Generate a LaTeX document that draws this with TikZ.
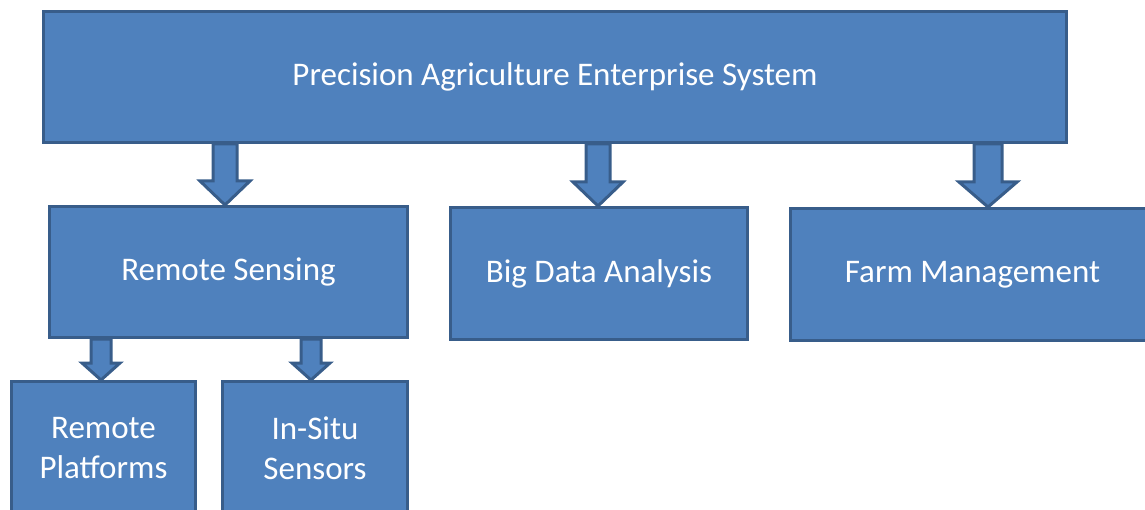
\documentclass[tikz,border=0pt]{standalone}
\usepackage{fontspec}
\setmainfont{Carlito}
\usetikzlibrary{calc}
\definecolor{boxfill}{HTML}{4F81BD}
\definecolor{boxline}{HTML}{385D8A}
\tikzset{
  blk/.style={draw=boxline, fill=boxfill, line width=3pt, text=white,
    font=\fontsize{33}{40}\selectfont, align=center, inner sep=0pt, anchor=north west},
  arr/.style={draw=boxline, fill=boxfill, line width=3pt, line join=miter},
}
% x-centre, from node, to node, shaft half width, head half width, head length
\newcommand\blockarrow[6]{%
  \draw[arr] let \p1=(#2.south), \p2=(#3.north) in
    (#1pt-#4pt,\y1) -- (#1pt+#4pt,\y1) -- (#1pt+#4pt,\y2+#6pt) -- (#1pt+#5pt,\y2+#6pt)
    -- (#1pt,\y2) -- (#1pt-#5pt,\y2+#6pt) -- (#1pt-#4pt,\y2+#6pt) -- cycle;}
\begin{document}
\begin{tikzpicture}[x=1pt,y=-1pt]
\useasboundingbox (0,0) rectangle (1145,510);
\clip (0,0) rectangle (1145,510);
\node[blk, minimum width=1023pt, minimum height=131pt] (top) at (42,10) {Precision Agriculture Enterprise System};
\node[blk, minimum width=358pt, minimum height=131pt] (rs) at (48,205) {Remote Sensing};
\node[blk, minimum width=297pt, minimum height=132pt] (bd) at (449,206) {Big Data Analysis};
\node[blk, minimum width=364pt, minimum height=132pt] (fm) at (789,207) {Farm Management};
\node[blk, minimum width=184pt, minimum height=134pt] (rp) at (10,380) {Remote\\Platforms};
\node[blk, minimum width=185pt, minimum height=134pt] (is) at (221,380) {In-Situ\\Sensors};
\blockarrow{225}{top}{rs}{12}{25}{24}
\blockarrow{598}{top}{bd}{12}{25}{24}
\blockarrow{988}{top}{fm}{14}{29}{25}
\blockarrow{101}{rs}{rp}{10}{19}{17}
\blockarrow{311}{rs}{is}{10}{19}{17}
\end{tikzpicture}
\end{document}
